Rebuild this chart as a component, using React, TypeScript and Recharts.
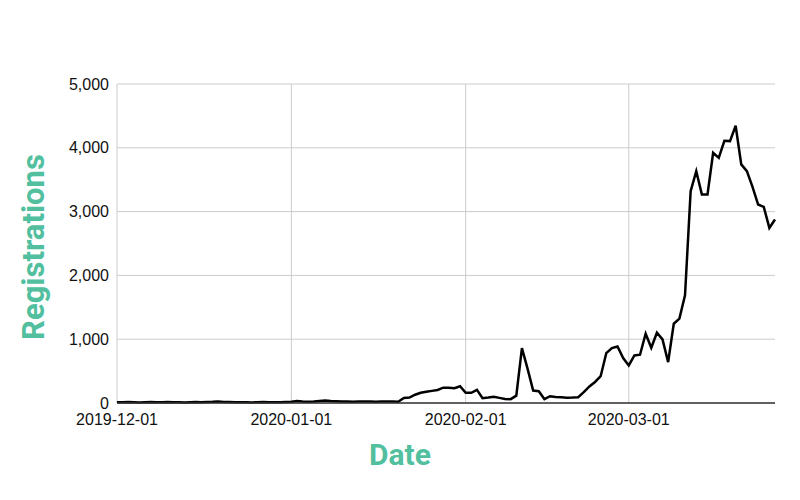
import React from 'react';
import { LineChart, Line, XAxis, YAxis, CartesianGrid, ReferenceLine } from 'recharts';

const START_DATE = '2019-12-01';

const registrations: number[] = [
  // December 2019
  12, 10, 14, 11, 9, 13, 15, 12, 10, 14, 13, 11, 9, 12, 15, 13, 16, 18, 22, 17, 14, 12, 11, 10, 9, 12, 14, 13, 11, 12, 15,
  // January 2020
  18, 30, 22, 20, 22, 30, 38, 32, 28, 24, 22, 18, 22, 25, 22, 20, 22, 25, 22, 20, 80, 86, 130, 160, 176, 190, 205, 240, 240, 232, 262,
  // February 2020
  160, 160, 207, 75, 85, 97, 80, 62, 60, 115, 860, 540, 196, 185, 60, 107, 95, 90, 82, 85, 91, 170, 260, 330, 420, 782, 860, 885, 705,
  // March 2020
  589, 746, 757, 1086, 866, 1102, 997, 641, 1243, 1322, 1688, 3320, 3634, 3268, 3268, 3922, 3843, 4110, 4105, 4346, 3740, 3634, 3388, 3111, 3074, 2744, 2876,
];

const xTickLabels: string[] = ['2019-12-01', '2020-01-01', '2020-02-01', '2020-03-01'];
const yTicks: number[] = [0, 1000, 2000, 3000, 4000, 5000];

const dates: string[] = (() => {
  const out: string[] = [];
  const d0 = new Date(START_DATE + 'T00:00:00Z');
  for (let i = 0; i < registrations.length; i++) {
    const d = new Date(d0.getTime() + i * 86400000);
    out.push(d.toISOString().slice(0, 10));
  }
  return out;
})();

const data = registrations.map((v, i) => ({ day: i, date: dates[i], registrations: v }));
const xTicks = xTickLabels.map((l) => dates.indexOf(l));

const TITLE_COLOR = '#52BF9F';
const TITLE_FONT = 'Roboto, "Noto Sans", sans-serif';
const TICK_FONT = '"Liberation Sans", Arial, sans-serif';

export default function App() {
  return (
    <div style={{ position: 'absolute', left: 0, top: 0, width: 800, height: 500, background: '#fff' }}>
      <LineChart
        width={800}
        height={500}
        data={data}
        margin={{ top: 84, right: 25, left: 0, bottom: 0 }}
      >
        <CartesianGrid stroke="#cccccc" strokeWidth={1} vertical={false} />
        {xTicks.map((t) => (
          <ReferenceLine key={t} x={t} stroke="#cccccc" strokeWidth={1} />
        ))}
        <XAxis
          dataKey="day"
          type="number"
          domain={[0, registrations.length - 1]}
          ticks={xTicks}
          interval={0}
          tickFormatter={(v: number) => dates[v]}
          height={97}
          tickMargin={5}
          axisLine={{ stroke: '#333333', strokeWidth: 1.5 }}
          tickLine={false}
          tick={{ fill: '#111', fontSize: 16, fontFamily: TICK_FONT }}
          label={{
            content: () => (
              <text
                x={400}
                y={465}
                textAnchor="middle"
                fill={TITLE_COLOR}
                fontSize={30}
                fontWeight={700}
                fontFamily={TITLE_FONT}
              >
                Date
              </text>
            ),
          }}
        />
        <YAxis
          width={117}
          domain={[0, 5000]}
          ticks={yTicks}
          interval={0}
          axisLine={false}
          tickLine={false}
          tickFormatter={(v: number) => v.toLocaleString('en-US')}
          tick={{ fill: '#111', fontSize: 16, fontFamily: TICK_FONT }}
          label={{
            content: () => (
              <text
                x={33}
                y={247}
                transform="rotate(-90 33 247)"
                textAnchor="middle"
                dominantBaseline="central"
                fill={TITLE_COLOR}
                fontSize={31}
                fontWeight={700}
                fontFamily={TITLE_FONT}
              >
                Registrations
              </text>
            ),
          }}
        />
        <Line
          type="linear"
          dataKey="registrations"
          stroke="#000000"
          strokeWidth={2.5}
          dot={false}
          activeDot={false}
          isAnimationActive={false}
        />
      </LineChart>
    </div>
  );
}
